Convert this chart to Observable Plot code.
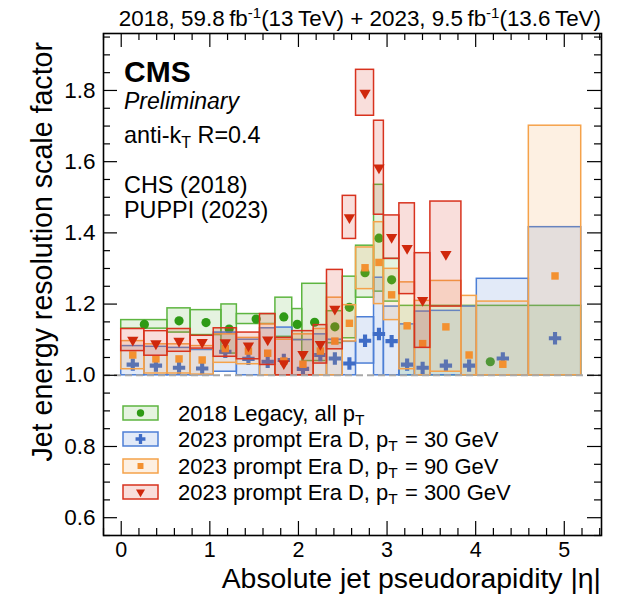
<!DOCTYPE html>
<html>
<head>
<meta charset="utf-8">
<script src="https://cdn.jsdelivr.net/npm/d3@7"></script>
<script src="https://cdn.jsdelivr.net/npm/@observablehq/plot@0.6"></script>
<style>
  html, body { margin: 0; padding: 0; background: #fff; }
  #chart svg { display: block; }
</style>
</head>
<body>
<div id="chart"></div>
<script>
// ---- 2018 Legacy, all pT (CHS) ----
const etaLo2018 = [0, 0.522, 0.783, 1.131, 1.305, 1.740, 1.930, 2.043, 2.322, 2.500, 2.650, 2.853, 2.964, 3.139];
const etaHi2018 = [0.522, 0.783, 1.131, 1.305, 1.740, 1.930, 2.043, 2.322, 2.500, 2.650, 2.853, 2.964, 3.139, 5.191];
const sf2018    = [1.143, 1.153, 1.148, 1.130, 1.158, 1.164, 1.143, 1.149, 1.136, 1.191, 1.288, 1.385, 1.268, 1.038];
const sf2018Dn  = [1.131, 1.120, 1.113, 1.061, 1.144, 1.108, 1.099, 1.040, 1.090, 1.104, 1.218, 1.235, 1.207, 1.000];
const sf2018Up  = [1.155, 1.188, 1.183, 1.199, 1.172, 1.218, 1.186, 1.257, 1.180, 1.277, 1.364, 1.535, 1.327, 1.195];

// ---- 2023 prompt Era D (PUPPI) eta binning ----
const etaLo2023 = [0, 0.261, 0.522, 0.783, 1.044, 1.305, 1.566, 1.740, 1.930, 2.172, 2.322, 2.500, 2.650, 2.853, 2.964, 3.139, 3.314, 3.489, 3.839, 4.013, 4.600];
const etaHi2023 = [0.261, 0.522, 0.783, 1.044, 1.305, 1.566, 1.740, 1.930, 2.172, 2.322, 2.500, 2.650, 2.853, 2.964, 3.139, 3.314, 3.489, 3.839, 4.013, 4.600, 5.191];

// pT = 30 GeV
const sf30   = [1.030, 1.027, 1.021, 1.019, 1.066, 1.046, 1.038, 1.043, 1.018, 1.057, 1.047, 1.033, 1.097, 1.116, 1.096, 1.030, 1.021, 1.027, 1.027, 1.047, 1.104];
const sf30Dn = [1.000, 1.000, 1.000, 1.000, 1.010, 1.000, 1.000, 1.000, 1.000, 1.000, 1.000, 1.000, 1.033, 1.000, 1.000, 1.000, 1.000, 1.000, 1.000, 1.000, 1.000];
const sf30Up = [1.082, 1.080, 1.077, 1.071, 1.120, 1.100, 1.132, 1.134, 1.099, 1.115, 1.100, 1.094, 1.163, 1.274, 1.193, 1.143, 1.179, 1.181, 1.193, 1.271, 1.416];

// pT = 90 GeV
const sf90   = [1.057, 1.046, 1.046, 1.043, 1.075, 1.068, 1.062, 1.040, 1.031, 1.068, 1.096, 1.146, 1.302, 1.317, 1.226, 1.139, 1.089, 1.136, 1.057, 1.031, 1.279];
const sf90Dn = [1.017, 1.005, 1.005, 1.002, 1.035, 1.031, 1.000, 1.000, 1.000, 1.000, 1.000, 1.095, 1.242, 1.200, 1.155, 1.017, 1.000, 1.010, 1.000, 1.000, 1.000];
const sf90Up = [1.096, 1.087, 1.087, 1.082, 1.115, 1.105, 1.143, 1.100, 1.115, 1.130, 1.218, 1.197, 1.359, 1.430, 1.299, 1.261, 1.209, 1.265, 1.223, 1.207, 1.701];

// pT = 300 GeV (kinematically limited to |eta| < 3.839)
const sf300   = [1.099, 1.089, 1.096, 1.093, 1.092, 1.083, 1.100, 1.033, 1.059, 1.087, 1.186, 1.443, 1.793, 1.583, 1.388, 1.357, 1.211, 1.340];
const sf300Dn = [1.068, 1.055, 1.066, 1.075, 1.052, 1.045, 1.029, 1.000, 1.000, 1.033, 1.073, 1.383, 1.729, 1.451, 1.327, 1.228, 1.077, 1.193];
const sf300Up = [1.130, 1.124, 1.130, 1.111, 1.132, 1.120, 1.172, 1.105, 1.124, 1.141, 1.296, 1.504, 1.858, 1.715, 1.449, 1.483, 1.343, 1.488];

// axis ticks
const xMajor = [0, 1, 2, 3, 4, 5];
const xTickLabels = ["0", "1", "2", "3", "4", "5"];
const yMajor = [0.6, 0.8, 1.0, 1.2, 1.4, 1.6, 1.8];
const yTickLabels = ["0.6", "0.8", "1.0", "1.2", "1.4", "1.6", "1.8"];

const legendLabels = [
  ["2018 Legacy, all p", "T", ""],
  ["2023 prompt Era D, p", "T", " = 30 GeV"],
  ["2023 prompt Era D, p", "T", " = 90 GeV"],
  ["2023 prompt Era D, p", "T", " = 300 GeV"]
];

// ---- layout / style ----
const W = 628, H = 595;
const FONT = "'Liberation Sans', Arial, Helvetica, sans-serif";
const xDomain = [-0.2, 5.42];
const yDomain = [0.55, 1.96];
const xMinor = d3.range(-1, 28).map(i => +(i * 0.2).toFixed(2)).filter(v => !xMajor.includes(v) && v >= xDomain[0] && v <= xDomain[1]);
const yMinor = d3.range(11, 40).map(i => +(i * 0.05).toFixed(2)).filter(v => !yMajor.includes(v) && v >= yDomain[0] && v <= yDomain[1]);

function rows(lo, hi, sf, dn, up) {
  return sf.map((v, i) => ({x1: lo[i], x2: hi[i], xc: (lo[i] + hi[i]) / 2, sf: v, dn: dn[i], up: up[i]}));
}

const series = [
  {rows: rows(etaLo2018, etaHi2018, sf2018, sf2018Dn, sf2018Up), line: "#5db540", mark: "#2f9a16", symbol: "circle",   r: 4.6, rotate: 0},
  {rows: rows(etaLo2023, etaHi2023, sf30,   sf30Dn,   sf30Up),   line: "#4d7fd6", mark: "#3f6cc6", symbol: "cross",    r: 5.2, rotate: 0},
  {rows: rows(etaLo2023, etaHi2023, sf90,   sf90Dn,   sf90Up),   line: "#f5a24a", mark: "#f39130", symbol: "square",   r: 4.2, rotate: 0},
  {rows: rows(etaLo2023, etaHi2023, sf300,  sf300Dn,  sf300Up),  line: "#d8321e", mark: "#d0280c", symbol: "triangle", r: 4.2, rotate: 180}
];

// each series: uncertainty band per bin, then its central value
const marks = [];
for (const s of series) {
  marks.push(Plot.rect(s.rows, {x1: "x1", x2: "x2", y1: "dn", y2: "up", fill: s.line, fillOpacity: 0.16, stroke: s.line, strokeWidth: 1.5}));
  marks.push(Plot.dot(s.rows, {x: "xc", y: "sf", symbol: s.symbol, r: s.r, fill: s.mark, stroke: "none", rotate: s.rotate}));
}

const plot = Plot.plot({
  width: W,
  height: H,
  marginLeft: 103,
  marginRight: 27,
  marginTop: 33,
  marginBottom: 60,
  style: {fontFamily: FONT, background: "#fff", color: "#000"},
  x: {domain: xDomain, label: null},
  y: {domain: yDomain, label: null},
  marks: [
    ...marks,
    Plot.ruleY([1], {stroke: "#a8a8a8", strokeWidth: 2, strokeDasharray: "7,4"}),
    // inward ticks on all four sides
    Plot.ruleX(xMajor, {x: d => d, y1: yDomain[0], y2: yDomain[0], insetTop: -14, stroke: "#000", strokeWidth: 1.2}),
    Plot.ruleX(xMinor, {x: d => d, y1: yDomain[0], y2: yDomain[0], insetTop: -7, stroke: "#000", strokeWidth: 1.2}),
    Plot.ruleX(xMajor, {x: d => d, y1: yDomain[1], y2: yDomain[1], insetBottom: -14, stroke: "#000", strokeWidth: 1.2}),
    Plot.ruleX(xMinor, {x: d => d, y1: yDomain[1], y2: yDomain[1], insetBottom: -7, stroke: "#000", strokeWidth: 1.2}),
    Plot.ruleY(yMajor, {y: d => d, x1: xDomain[0], x2: xDomain[0], insetRight: -14, stroke: "#000", strokeWidth: 1.2}),
    Plot.ruleY(yMinor, {y: d => d, x1: xDomain[0], x2: xDomain[0], insetRight: -7, stroke: "#000", strokeWidth: 1.2}),
    Plot.ruleY(yMajor, {y: d => d, x1: xDomain[1], x2: xDomain[1], insetLeft: -14, stroke: "#000", strokeWidth: 1.2}),
    Plot.ruleY(yMinor, {y: d => d, x1: xDomain[1], x2: xDomain[1], insetLeft: -7, stroke: "#000", strokeWidth: 1.2}),
    Plot.axisX({ticks: xMajor, tickFormat: d => xTickLabels[xMajor.indexOf(d)], tickSize: 0, tickPadding: 6, fontSize: 21.5, label: null}),
    Plot.axisY({ticks: yMajor, tickFormat: d => yTickLabels[yMajor.findIndex(v => Math.abs(v - d) < 1e-9)], tickSize: 0, tickPadding: 8, fontSize: 22.5, label: null}),
    Plot.frame({stroke: "#000", strokeWidth: 1.6})
  ]
});

document.getElementById("chart").appendChild(plot);

// ---- annotations ----
const svg = d3.select(plot);
const g = svg.append("g").attr("font-family", FONT).attr("fill", "#000").attr("text-anchor", "start");

// luminosity / energy header
const hdr = g.append("text").attr("x", 601).attr("y", 26).attr("text-anchor", "end").attr("font-size", 22.4);
hdr.append("tspan").text("2018, 59.8\u2009fb");
hdr.append("tspan").attr("dy", -8).attr("font-size", 15).text("-1");
hdr.append("tspan").attr("dy", 8).text("(13\u2009TeV) + 2023, 9.5\u2009fb");
hdr.append("tspan").attr("dy", -8).attr("font-size", 15).text("-1");
hdr.append("tspan").attr("dy", 8).text("(13.6\u2009TeV)");

// CMS label block
g.append("text").attr("x", 124).attr("y", 82).attr("font-size", 30).attr("font-weight", "bold").text("CMS");
g.append("text").attr("x", 124).attr("y", 109).attr("font-size", 23).attr("font-style", "italic").text("Preliminary");
const ak = g.append("text").attr("x", 124).attr("y", 143).attr("font-size", 23.4);
ak.append("tspan").text("anti-k");
ak.append("tspan").attr("dy", 5).attr("font-size", 16).text("T");
ak.append("tspan").attr("dy", -5).text(" R=0.4");
g.append("text").attr("x", 124).attr("y", 193).attr("font-size", 23.4).text("CHS (2018)");
g.append("text").attr("x", 124).attr("y", 218).attr("font-size", 23.4).text("PUPPI (2023)");

// axis titles
g.append("text").attr("transform", "translate(52,42) rotate(-90)").attr("text-anchor", "end").attr("font-size", 28.6)
  .text("Jet energy resolution scale factor");
g.append("text").attr("x", 601).attr("y", 588).attr("text-anchor", "end").attr("font-size", 28.4)
  .text("Absolute jet pseudorapidity |\u03b7|");

// legend
const legendY = [413, 439, 466, 492];
series.forEach((s, i) => {
  const y = legendY[i];
  g.append("rect").attr("x", 123).attr("y", y - 7).attr("width", 35).attr("height", 14)
    .attr("fill", s.line).attr("fill-opacity", 0.16).attr("stroke", s.line).attr("stroke-width", 1.5);
  const sym = {circle: d3.symbolCircle, cross: d3.symbolCross, square: d3.symbolSquare, triangle: d3.symbolTriangle}[s.symbol];
  const rr = s.r * 0.8;
  g.append("path").attr("d", d3.symbol(sym, rr * rr * Math.PI)())
    .attr("transform", `translate(140.5,${y}) rotate(${s.rotate})`).attr("fill", s.mark);
  const t = g.append("text").attr("x", 178).attr("y", y + 8).attr("font-size", 22);
  t.append("tspan").text(legendLabels[i][0]);
  t.append("tspan").attr("dy", 4).attr("font-size", 15.5).text(legendLabels[i][1]);
  t.append("tspan").attr("dy", -4).attr("dx", 1).text(legendLabels[i][2]);
});
</script>
</body>
</html>
